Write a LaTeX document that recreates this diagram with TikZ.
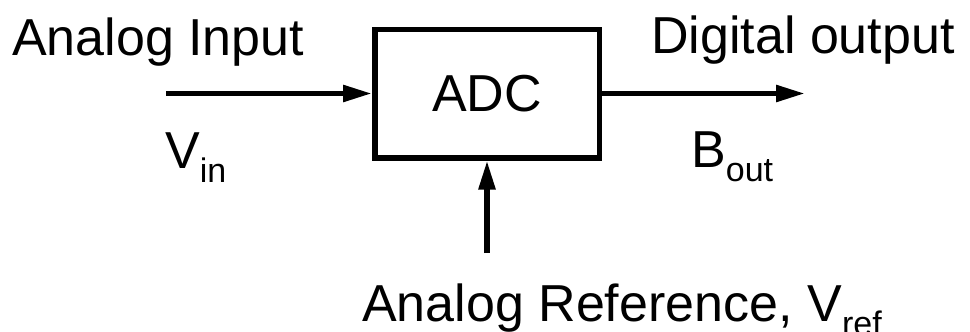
\documentclass[tikz,border=0pt]{standalone}
\usepackage{fontspec}
\setmainfont{Liberation Sans}
\usetikzlibrary{arrows.meta}
\newcommand{\subtxt}[1]{\raisebox{-14pt}{\fontsize{34}{38}\selectfont #1}}
\begin{document}
\begin{tikzpicture}[x=1pt,y=-1pt,
  lbl/.style={anchor=base west,inner sep=0pt,font=\fontsize{52}{60}\selectfont},
  conn/.style={line width=5.5pt,-{Triangle[length=29pt,width=16pt]}}]
\useasboundingbox[fill=white] (0,0) rectangle (970,332);
\node[draw,line width=5.5pt,minimum width=224.5pt,minimum height=128.5pt,inner sep=0pt,
      font=\fontsize{52}{60}\selectfont] (adc) at (487,93.5) {ADC};
\coordinate (inS) at (166,93.5);
\coordinate (outE) at (805,93.5);
\coordinate (refS) at (487,253);
\draw[conn] (inS) -- (adc.west);
\draw[conn] (adc.east) -- (outE);
\draw[conn] (refS) -- (adc.south);
\node[lbl] (ain) at (12,55) {Analog Input};
\node[lbl] (dout) at (651,53) {Digital output};
\node[lbl] (vin) at (165,168) {V\subtxt{in}};
\node[lbl] (bout) at (691,167) {B\subtxt{out}};
\node[lbl] (aref) at (362,321) {Analog Reference, V\subtxt{ref}};
\end{tikzpicture}
\end{document}
